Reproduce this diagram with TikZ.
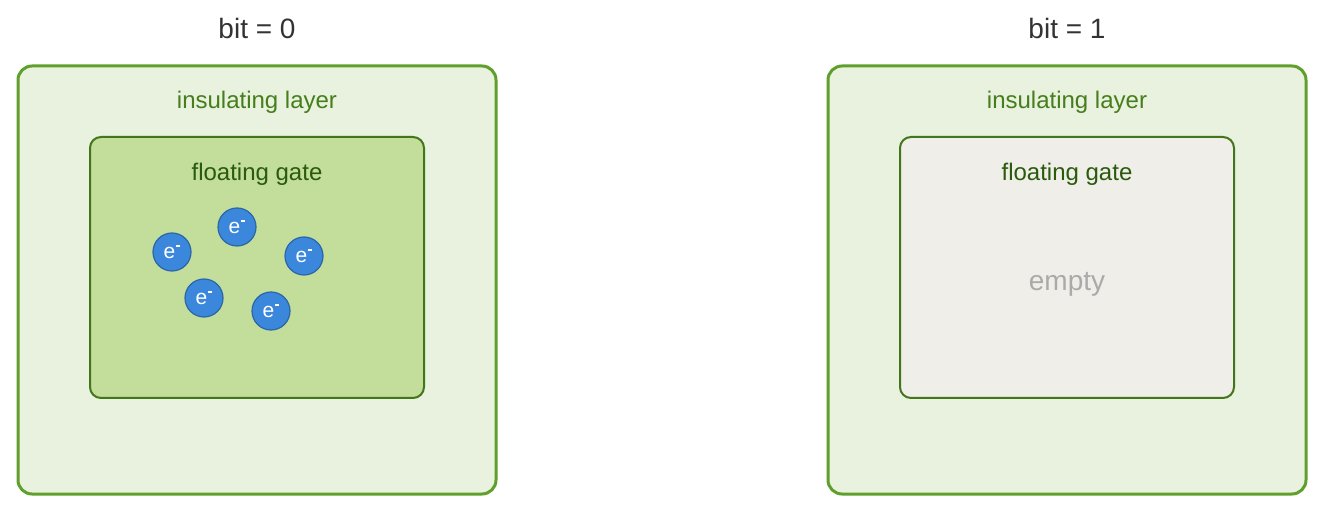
\documentclass[tikz,border=0pt]{standalone}
\usepackage{fontspec}
\setmainfont{Liberation Sans}
\definecolor{outerfill}{HTML}{E8F2DF}
\definecolor{outerline}{HTML}{609F2C}
\definecolor{innerfill}{HTML}{C3DD9A}
\definecolor{innerline}{HTML}{43761B}
\definecolor{emptyfill}{HTML}{F0EEE8}
\definecolor{insutext}{HTML}{457E1A}
\definecolor{gatetext}{HTML}{2A5A0C}
\definecolor{titletext}{HTML}{333333}
\definecolor{efill}{HTML}{3A87DC}
\definecolor{eline}{HTML}{2B66A8}
\definecolor{emptytext}{HTML}{AAAAAA}
\newcommand{\elec}{e\kern0.5pt\raisebox{0.55em}{\rule{4.5pt}{1.3pt}}}
\tikzset{
  outerbox/.style={draw=outerline, fill=outerfill, line width=3pt, rounded corners=14pt},
  innerbox/.style={draw=innerline, line width=2pt, rounded corners=11pt},
  titlelbl/.style={font=\fontsize{28}{32}\selectfont, text=titletext},
  insulbl/.style={font=\fontsize{24}{28}\selectfont, text=insutext},
  gatelbl/.style={font=\fontsize{24}{28}\selectfont, text=gatetext},
  emptylbl/.style={font=\fontsize{28}{32}\selectfont, text=emptytext},
  electron/.style={circle, draw=eline, fill=efill, line width=1.2pt, minimum size=38pt, inner sep=0pt,
    text=white, font=\fontsize{21}{24}\selectfont},
}
\begin{document}
\begin{tikzpicture}[x=1pt,y=-1pt]
\useasboundingbox (0,0) rectangle (1320,510);
% left panel
\node[titlelbl] (t0) at (257,28) {bit = 0};
\draw[outerbox] (18,66) rectangle (496,494);
\node[insulbl] (ins0) at (257,102) {insulating layer};
\draw[innerbox, fill=innerfill] (90,137) rectangle (424,398);
\node[gatelbl] (fg0) at (257,174) {floating gate};
\node[electron] (e1) at (172,252) {\elec};
\node[electron] (e2) at (237,227) {\elec};
\node[electron] (e3) at (304,256) {\elec};
\node[electron] (e4) at (204,298) {\elec};
\node[electron] (e5) at (271,311) {\elec};
% right panel
\node[titlelbl] (t1) at (1067,28) {bit = 1};
\draw[outerbox] (828,66) rectangle (1306,494);
\node[insulbl] (ins1) at (1067,102) {insulating layer};
\draw[innerbox, fill=emptyfill] (900,137) rectangle (1234,398);
\node[gatelbl] (fg1) at (1067,174) {floating gate};
\node[emptylbl] (em) at (1067,284) {empty};
\end{tikzpicture}
\end{document}
